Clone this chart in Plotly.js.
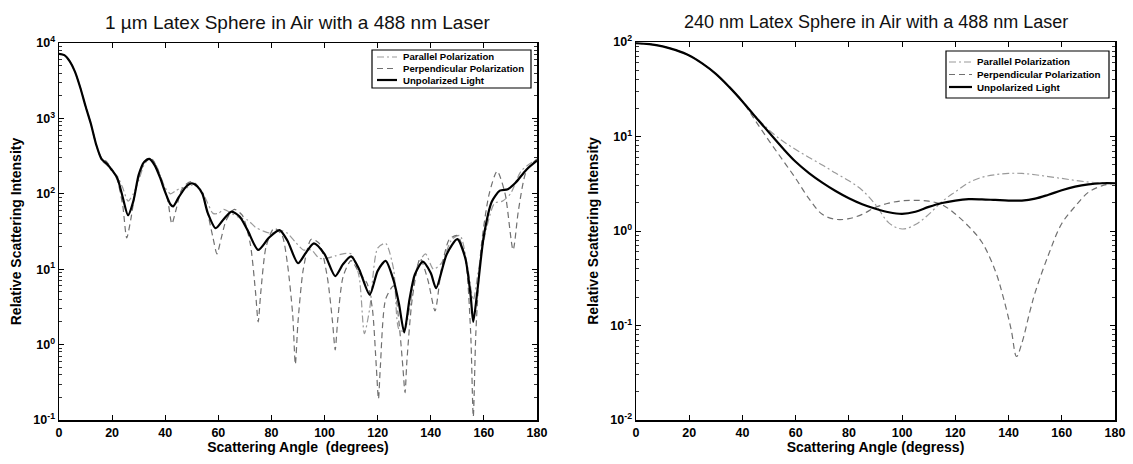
<!DOCTYPE html>
<html>
<head>
<meta charset="utf-8">
<script src="https://cdn.plot.ly/plotly-3.0.1.min.js"></script>
<style>
html,body{margin:0;padding:0;background:#fff;}
#chart{width:1133px;height:464px;}
</style>
</head>
<body>
<div id="chart"></div>
<script>
// ---------- Left panel: 1 µm sphere ----------
const leftUnpolAngle = [0,2,4,6,8,10,12,14,16,18,20,22,24,26,28,30,32,34,36,38,40,42,43,45,48,50,52,54,56,59,62,65,68,71,75,79,83,86,90,93,96,100,104,107,110,113,117,120,123,126,128,130,132,134,137,140,142,146,150,153,155,156,157.5,160,163,166,169,172,176,180];
const leftUnpol = [7200,6900,5750,4170,2570,1450,850,450,290,250,205,160,90,52,80,178,263,290,240,166,105,72,68,89,126,138,126,100,56,35,46,58,50,33,18,26,33,24,12,16.6,22,15.8,8.1,11.7,14.8,10,4.6,9.5,12.9,7.1,3.5,1.45,4.0,8.5,12.6,8.9,5.6,15.8,25,14,4.5,2.0,5,28,79,110,115,141,209,275];

const leftPerpAngle = [0,2,4,6,8,10,12,14,16,18,20,22,24,25.5,27,29,31,33,35,37,39,41,42.5,44,46,48,50,52,54,56,58,59.5,61,63,66,69,72,74,75,76,78,81,84,86,88,89,90,92,95,98,101,103,104,105,107,110,113,116,118,119.5,120.3,121,123,126,128,129.5,130.3,131,133,136,139,141.6,144,147,150,153,155,156,157,159,162,165,168,171,173,176,180];
const leftPerp = [7200,6900,5750,4170,2570,1450,850,450,300,265,210,150,70,26,45,120,210,290,290,220,140,80,40,60,110,135,145,130,100,55,26,16,25,45,62,52,22,5,2.0,5,20,35,28,12,2.5,0.55,2.0,10,25,22,8,2.0,0.85,2.2,8,13,9,6.5,3,0.5,0.19,0.5,4,6,2,0.5,0.23,0.6,4,14,7,2.8,10,25,28,14,1.5,0.11,1.5,20,100,200,100,18,60,200,290];

const leftParAngle = [0,2,4,6,8,10,12,14,16,18,20,22,24,26,28,30,32,34,36,38,40,42,44,46,48,50,52,54,56,58,60,62,65,68,71,74,77,80,83,86,89,92,95,98,101,104,107,110,113,115,117,120,123,126,128,130,132,135,138,141,144,148,151,154,156,158,161,164,167,170,174,178,180];
const leftPar = [7200,6900,5750,4170,2570,1450,850,450,280,240,200,170,120,80,100,150,240,290,260,180,120,100,110,120,120,130,125,105,75,55,55,62,55,48,45,36,32,30,33,30,23,18,18,14,14,15,16,16,8,1.4,3,19,22,10,1.6,1.5,3,11,16,10,12,25,28,10,3.9,10,35,75,80,100,200,260,275];

// ---------- Right panel: 240 nm sphere ----------
const rightAngle = [0,5,10,15,20,25,30,35,40,45,50,55,60,65,70,75,80,85,90,95,100,105,110,115,120,125,130,135,140,145,150,155,160,165,170,175,180];
const rightUnpol = [97,95,90,82,72,59,46,33.5,23.5,16,11,7.6,5.4,4.1,3.25,2.65,2.22,1.92,1.72,1.58,1.52,1.6,1.8,1.98,2.1,2.17,2.16,2.13,2.1,2.1,2.2,2.42,2.7,2.95,3.12,3.2,3.2];
const rightPar = [97,95,90,82,72,59,46,33.5,23.5,16.3,11.7,9.0,7.3,6.0,5.0,4.1,3.4,2.7,1.9,1.22,1.05,1.17,1.5,2.05,2.6,3.24,3.7,3.94,4.07,4.07,3.94,3.76,3.6,3.43,3.3,3.24,3.2];
const rightPerpAngle = [0,5,10,15,20,25,30,35,40,45,50,55,60,65,70,75,80,85,90,95,100,105,110,115,120,125,130,135,138,141,143,145,148,150,155,160,165,170,175,180];
const rightPerp = [97,95,90,82,72,59,46,33.5,23.5,14.5,9.0,5.7,3.6,2.2,1.5,1.33,1.35,1.5,1.78,1.97,2.09,2.11,2.07,1.9,1.51,1.12,0.76,0.38,0.2,0.09,0.047,0.065,0.14,0.224,0.56,1.2,1.82,2.57,3.0,3.2];

const seriesNames = ['Parallel Polarization','Perpendicular Polarization','Unpolarized Light'];
const xTicks = [0,20,40,60,80,100,120,140,160,180];
const leftYTickVals = [0.1,1,10,100,1000,10000];
const leftYTickText = ['10<sup>-1</sup>','10<sup>0</sup>','10<sup>1</sup>','10<sup>2</sup>','10<sup>3</sup>','10<sup>4</sup>'];
const rightYTickVals = [0.01,0.1,1,10,100];
const rightYTickText = ['10<sup>-2</sup>','10<sup>-1</sup>','10<sup>0</sup>','10<sup>1</sup>','10<sup>2</sup>'];

const FONT = 'Liberation Sans, Arial, Helvetica, sans-serif';
const styles = {
  par:  {color:'#9a9a9a', width:1.2, dash:'7px,3px,2px,3px'},
  perp: {color:'#707070', width:1.2, dash:'6px,4px'},
  unp:  {color:'#000000', width:2.2, dash:'solid'}
};

function tr(x, y, name, st, xa, ya, sm){
  return {x:x, y:y, name:name, type:'scatter', mode:'lines', xaxis:xa, yaxis:ya,
    line:{color:st.color, width:st.width, dash:st.dash, shape:'spline', smoothing:sm},
    showlegend:false, hoverinfo:'x+y+name'};
}

const data = [
  tr(leftParAngle, leftPar, seriesNames[0], styles.par, 'x', 'y', 0.7),
  tr(leftPerpAngle, leftPerp, seriesNames[1], styles.perp, 'x', 'y', 0.7),
  tr(leftUnpolAngle, leftUnpol, seriesNames[2], styles.unp, 'x', 'y', 0.7),
  tr(rightAngle, rightPar, seriesNames[0], styles.par, 'x2', 'y2', 1),
  tr(rightPerpAngle, rightPerp, seriesNames[1], styles.perp, 'x2', 'y2', 1),
  tr(rightAngle, rightUnpol, seriesNames[2], styles.unp, 'x2', 'y2', 1)
];

const W = 1133, H = 464;
const px = v => v / W, py = v => 1 - v / H;

function xax(domain, titleText){
  return {domain:domain, range:[0,180], tickvals:xTicks, ticktext:xTicks.map(String), tickmode:'array',
    ticks:'inside', ticklen:5, tickwidth:1, tickcolor:'#000', mirror:'ticks', showline:true, linecolor:'#000', linewidth:1.5,
    showgrid:false, zeroline:false, tickfont:{family:FONT, size:12.5, color:'#000', weight:'bold'},
    title:{text:titleText, font:{family:FONT, size:14, color:'#000', weight:'bold'}, standoff:3}, automargin:false};
}
function yax(domain, range, vals, text, anchor){
  return {domain:domain, type:'log', range:range, tickmode:'array', tickvals:vals, ticktext:text,
    ticks:'inside', ticklen:5, tickwidth:1, tickcolor:'#000', mirror:'ticks', showline:true, linecolor:'#000', linewidth:1.5,
    minor:{ticks:'inside', ticklen:3, tickwidth:0.8, tickcolor:'#000', dtick:'D1', showgrid:false},
    showgrid:false, zeroline:false, tickfont:{family:FONT, size:12.5, color:'#000', weight:'bold'},
    title:{text:'Relative Scattering Intensity', font:{family:FONT, size:14, color:'#000', weight:'bold'}, standoff:8},
    anchor:anchor, automargin:false};
}

const shapes = [];
const annotations = [
  {text:'1 µm Latex Sphere in Air with a 488 nm Laser', x:px(297), y:py(22), xref:'paper', yref:'paper', showarrow:false, xanchor:'center', yanchor:'middle', font:{family:FONT, size:19, color:'#111'}},
  {text:'240 nm Latex Sphere in Air with a 488 nm Laser', x:px(876), y:py(22), xref:'paper', yref:'paper', showarrow:false, xanchor:'center', yanchor:'middle', font:{family:FONT, size:18, color:'#111'}}
];

function legendBox(x0, x1, y0, y1, sx0, sx1, tx, rows, fs){
  shapes.push({type:'rect', xref:'paper', yref:'paper', x0:px(x0), x1:px(x1), y0:py(y0), y1:py(y1), line:{color:'#000', width:1.2}, fillcolor:'#fff', layer:'above'});
  const st = [styles.par, styles.perp, styles.unp];
  for (let i=0;i<3;i++){
    shapes.push({type:'line', xref:'paper', yref:'paper', x0:px(sx0), x1:px(sx1), y0:py(rows[i]), y1:py(rows[i]), line:{color:st[i].color, width:st[i].width, dash:st[i].dash}, layer:'above'});
    annotations.push({text:seriesNames[i], x:px(tx), y:py(rows[i]), xref:'paper', yref:'paper', showarrow:false, xanchor:'left', yanchor:'middle', font:{family:FONT, size:fs, color:'#000', weight:'bold'}});
  }
}
legendBox(372, 531, 50, 88, 377, 397, 401, [57, 68.5, 80], 9.6);
legendBox(946, 1109, 51, 98, 949, 972, 975, [62, 74.5, 87], 9.8);

const layout = {
  width:W, height:H, margin:{l:0,r:0,t:0,b:0}, paper_bgcolor:'#fff', plot_bgcolor:'#fff',
  showlegend:false,
  xaxis: xax([px(59), px(537)], 'Scattering Angle \u00a0(degrees)'),
  yaxis: yax([1-420/H, 1-43/H], [-1,4], leftYTickVals, leftYTickText, 'x'),
  xaxis2: xax([px(636), px(1115)], 'Scattering Angle (degress)'),
  yaxis2: yax([1-420/H, 1-42/H], [-2,2], rightYTickVals, rightYTickText, 'x2'),
  shapes: shapes, annotations: annotations
};
layout.xaxis.anchor = 'y';
layout.xaxis2.anchor = 'y2';

Plotly.newPlot('chart', data, layout, {displayModeBar:false, staticPlot:true});
</script>
</body>
</html>
